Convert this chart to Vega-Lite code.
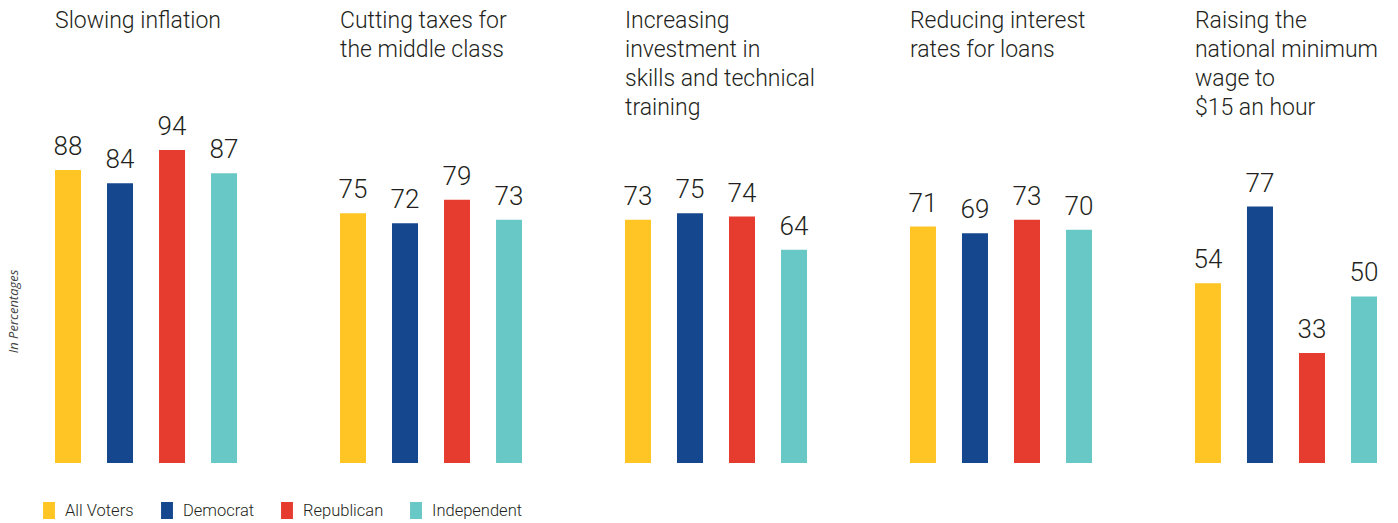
{
  "$schema": "https://vega.github.io/schema/vega-lite/v6.json",
  "width": 1348,
  "height": 463,
  "autosize": {"type": "none"},
  "padding": {"left": 42, "top": 0, "right": 8, "bottom": 60},
  "background": "#ffffff",
  "config": {"view": {"stroke": null}, "font": "Roboto"},
  "datasets": {
    "bars": [
      {"topic": "inflation", "party": "All Voters", "value": 88},
      {"topic": "inflation", "party": "Democrat", "value": 84},
      {"topic": "inflation", "party": "Republican", "value": 94},
      {"topic": "inflation", "party": "Independent", "value": 87},
      {"topic": "taxes", "party": "All Voters", "value": 75},
      {"topic": "taxes", "party": "Democrat", "value": 72},
      {"topic": "taxes", "party": "Republican", "value": 79},
      {"topic": "taxes", "party": "Independent", "value": 73},
      {"topic": "skills", "party": "All Voters", "value": 73},
      {"topic": "skills", "party": "Democrat", "value": 75},
      {"topic": "skills", "party": "Republican", "value": 74},
      {"topic": "skills", "party": "Independent", "value": 64},
      {"topic": "rates", "party": "All Voters", "value": 71},
      {"topic": "rates", "party": "Democrat", "value": 69},
      {"topic": "rates", "party": "Republican", "value": 73},
      {"topic": "rates", "party": "Independent", "value": 70},
      {"topic": "wage", "party": "All Voters", "value": 54},
      {"topic": "wage", "party": "Democrat", "value": 77},
      {"topic": "wage", "party": "Republican", "value": 33},
      {"topic": "wage", "party": "Independent", "value": 50}
    ],
    "topics": [
      {"topic": "inflation", "label": "Slowing inflation"},
      {"topic": "taxes", "label": "Cutting taxes for\nthe middle class"},
      {"topic": "skills", "label": "Increasing\ninvestment in\nskills and technical\ntraining"},
      {"topic": "rates", "label": "Reducing interest\nrates for loans"},
      {"topic": "wage", "label": "Raising the\nnational minimum\nwage to\n$15 an hour"}
    ]
  },
  "layer": [
    {
      "data": {"name": "bars"},
      "mark": {"type": "bar"},
      "encoding": {
        "x": {"field": "topic", "type": "nominal", "sort": ["inflation", "taxes", "skills", "rates", "wage"],
              "scale": {"paddingInner": 0.27, "paddingOuter": 0}, "axis": null},
        "xOffset": {"field": "party", "type": "nominal", "sort": ["All Voters", "Democrat", "Republican", "Independent"],
                    "scale": {"paddingInner": 0.5, "paddingOuter": 0.25}},
        "y": {"field": "value", "type": "quantitative", "scale": {"domain": [0, 139], "nice": false},
              "axis": {"title": "In Percentages", "labels": false, "ticks": false, "domain": false, "grid": false,
                       "titleFontStyle": "italic", "titleFontWeight": "normal", "titleFontSize": 13, "titleColor": "#444444",
                       "titleFont": "Open Sans", "titleY": 311, "titleX": -22}},
        "color": {"field": "party", "type": "nominal", "sort": ["All Voters", "Democrat", "Republican", "Independent"],
                  "scale": {"domain": ["All Voters", "Democrat", "Republican", "Independent"],
                            "range": ["#FEC524", "#15478E", "#E63C2F", "#68C8C5"]},
                  "legend": {"title": null, "orient": "none", "legendX": -1.5, "legendY": 502, "direction": "horizontal",
                             "symbolType": "M-0.7,-1L0.7,-1L0.7,1L-0.7,1Z", "symbolSize": 289, "symbolStrokeWidth": 0,
                             "labelFontSize": 16.5, "labelFontWeight": 300, "labelColor": "#231f20", "labelOffset": 7.5, "columnPadding": 24}}
      }
    },
    {
      "data": {"name": "bars"},
      "mark": {"type": "text", "baseline": "alphabetic", "dy": -15, "fontSize": 26, "fontWeight": 300, "color": "#231f20"},
      "encoding": {
        "x": {"field": "topic", "type": "nominal", "sort": ["inflation", "taxes", "skills", "rates", "wage"]},
        "xOffset": {"field": "party", "type": "nominal", "sort": ["All Voters", "Democrat", "Republican", "Independent"]},
        "y": {"field": "value", "type": "quantitative"},
        "text": {"field": "value", "type": "quantitative"}
      }
    },
    {
      "data": {"name": "topics"},
      "mark": {"type": "text", "align": "left", "baseline": "alphabetic", "dx": 13, "fontSize": 23, "fontWeight": 300, "lineHeight": 29,
               "lineBreak": "\n", "color": "#231f20"},
      "encoding": {
        "x": {"field": "topic", "type": "nominal", "sort": ["inflation", "taxes", "skills", "rates", "wage"], "bandPosition": 0},
        "y": {"datum": 130.6, "type": "quantitative"},
        "text": {"field": "label", "type": "nominal"}
      }
    }
  ]
}
